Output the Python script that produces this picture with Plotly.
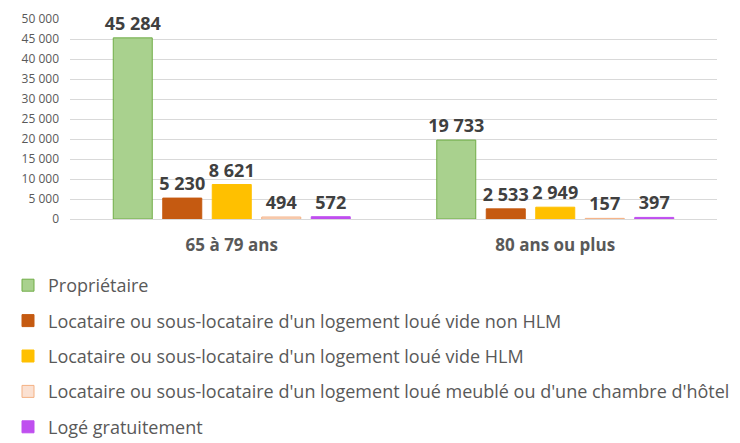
import plotly.graph_objects as go

categories = ["65 à 79 ans", "80 ans ou plus"]
series_names = [
    "Propriétaire",
    "Locataire ou sous-locataire d'un logement loué vide non HLM",
    "Locataire ou sous-locataire d'un logement loué vide HLM",
    "Locataire ou sous-locataire d'un logement loué meublé ou d'une chambre d'hôtel",
    "Logé gratuitement",
]
proprietaire = [45284, 19733]
loc_non_hlm = [5230, 2533]
loc_hlm = [8621, 2949]
loc_meuble = [494, 157]
loge_gratuit = [572, 397]
series_values = [proprietaire, loc_non_hlm, loc_hlm, loc_meuble, loge_gratuit]

fills = ["#A9D18E", "#C55A11", "#FFC000", "#FBE1D2", "#BF4FEF"]
borders = ["#70AD47", "#C55A11", "#FFC000", "#F4B183", "#BF4FEF"]

y_ticks = list(range(0, 50001, 5000))
y_tick_text = [f"{v:,}".replace(",", " ") for v in y_ticks]

FONT = "Open Sans"
fig = go.Figure()
for i, (name, vals) in enumerate(zip(series_names, series_values)):
    fig.add_trace(go.Bar(
        x=categories, y=vals, name=name,
        marker=dict(color=fills[i], line=dict(color=borders[i], width=1)),
        text=[f"{v:,}".replace(",", " ") for v in vals],
        textposition="outside",
        textfont=dict(family=FONT, size=18, color="#404040", weight="bold"),
        constraintext="none",
        cliponaxis=False,
        legendgroup=f"g{i}",
    ))

fig.update_layout(
    width=740, height=443,
    margin=dict(l=62, r=31, t=11, b=232, autoexpand=False),
    paper_bgcolor="white", plot_bgcolor="white",
    barmode="group", bargap=0.235, bargroupgap=0.212,
    font=dict(family=FONT, color="#595959"),
    showlegend=True,
    legend=dict(
        orientation="v", xref="container", yref="container",
        x=0.0, y=1 - 259 / 443, xanchor="left", yanchor="top",
        font=dict(family=FONT, size=18, color="#595959"),
        tracegroupgap=9, traceorder="grouped",
        itemwidth=30,
    ),
    uniformtext=dict(mode=False),
)
fig.update_yaxes(
    range=[0, 50000], tickvals=y_ticks, ticktext=y_tick_text,
    showgrid=True, gridcolor="#D9D9D9", gridwidth=1,
    zeroline=True, zerolinecolor="#D9D9D9", zerolinewidth=1,
    showline=False, tickfont=dict(family=FONT, size=12, color="#595959"),
    ticklabelstandoff=10,
)
fig.update_xaxes(
    showline=False, showgrid=False, tickangle=0,
    tickfont=dict(family=FONT, size=17, color="#595959", weight="bold"),
    ticklabelstandoff=14,
)
fig.write_html("out.html")
